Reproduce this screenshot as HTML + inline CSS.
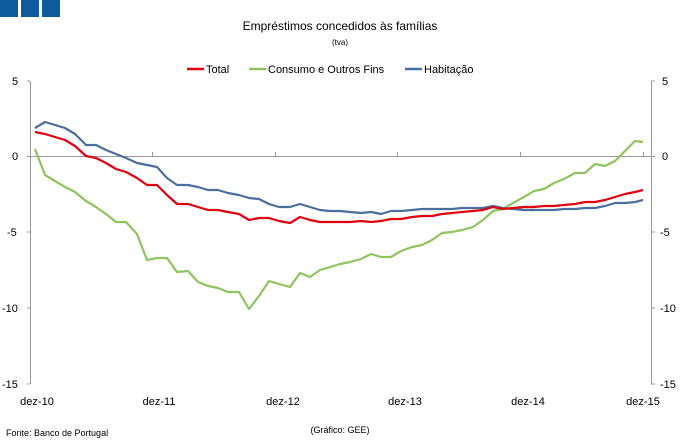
<!DOCTYPE html><html><head><meta charset="utf-8"><style>body{margin:0;background:#fff}svg{display:block;font-family:"Liberation Sans",sans-serif}</style></head><body>
<svg width="681" height="445" viewBox="0 0 681 445">
<rect x="0" y="0" width="18" height="17" fill="#0f5a9c"/><rect x="21" y="0" width="18" height="17" fill="#0f5a9c"/><rect x="42" y="0" width="18" height="17" fill="#0f5a9c"/>
<text x="340" y="30" font-size="12" text-anchor="middle" fill="#000">Empréstimos concedidos às famílias</text>
<text x="340" y="45" font-size="8" text-anchor="middle" fill="#000">(tva)</text>
<g font-size="11" fill="#000">
<line x1="187" y1="69" x2="204" y2="69" stroke="#e00010" stroke-width="2.5"/><text x="206" y="73">Total</text>
<line x1="249" y1="69" x2="266" y2="69" stroke="#8fc45f" stroke-width="2.5"/><text x="268" y="73">Consumo e Outros Fins</text>
<line x1="405" y1="69" x2="422" y2="69" stroke="#4a6f9c" stroke-width="2.5"/><text x="424" y="73">Habitação</text>
</g>
<g stroke="#999" stroke-width="1" fill="none">
<line x1="30.5" y1="81" x2="30.5" y2="384"/><line x1="651.5" y1="81" x2="651.5" y2="384"/>
<line x1="30" y1="156.5" x2="651" y2="156.5"/>
<path d="M27 81H30M27 156.5H30M27 232H30M27 308H30M27 384H30M651 81H655M651 156.5H655M651 232H655M651 308H655M651 384H655"/>
<path d="M152.5 152V156M275.5 152V156M397.5 152V156M520.5 152V156M643.5 152V156"/>
</g>
<g font-size="11" fill="#000">
<text x="12" y="85">5</text><text x="12" y="160">0</text><text x="7" y="236">-5</text><text x="2" y="312">-10</text><text x="2" y="388">-15</text>
<text x="662" y="85">5</text><text x="662" y="160">0</text><text x="660" y="236">-5</text><text x="660" y="312">-10</text><text x="660" y="388">-15</text>
<g text-anchor="middle"><text x="37" y="405">dez-10</text><text x="159" y="405">dez-11</text><text x="283" y="405">dez-12</text><text x="405" y="405">dez-13</text><text x="528" y="405">dez-14</text><text x="643" y="405">dez-15</text></g>
</g>
<text x="6" y="436" font-size="9">Fonte: Banco de Portugal</text>
<text x="340" y="433" font-size="9" text-anchor="middle">(Gráfico: GEE)</text>
<g fill="none" stroke-width="2.2" stroke-linejoin="round">
<polyline stroke="#8fc45f" points="35,149 45,175 55,181 65,187 75,192 86,201 96,207 106,214 116,222 126,222 137,234 147,260 157,258 167,258 177,272 188,271 198,282 208,286 218,288 228,292 239,292 249,309 259,296 269,281 279,284 290,287 300,273 310,277 320,270 330,267 340,264 350,262 361,259 371,254 381,257 391,257 401,251 412,247 422,245 432,240 442,233 452,232 462,230 473,227 483,220 493,211 503,209 513,203 524,197 534,191 544,189 554,183 564,179 575,173 585,173 595,164 605,166 615,161 625,151 635,141 643,142"/>
<polyline stroke="#4a6f9c" points="35,128 45,122 55,125 65,128 75,134 86,145 96,145 106,150 116,154 126,158 137,163 147,165 157,167 167,178 177,185 188,185 198,187 208,190 218,190 228,193 239,195 249,198 259,199 269,204 279,207 290,207 300,204 310,207 320,210 330,211 340,211 350,212 361,213 371,212 381,214 391,211 401,211 412,210 422,209 432,209 442,209 452,209 462,208 473,208 483,208 493,206 503,208 513,209 524,210 534,210 544,210 554,210 564,209 575,209 585,208 595,208 605,206 615,203 625,203 635,202 643,200"/>
<polyline stroke="#e00010" points="35,132 45,134 55,137 65,140 75,146 86,156 96,158 106,163 116,169 126,172 137,178 147,185 157,185 167,195 177,204 188,204 198,207 208,210 218,210 228,212 239,214 249,220 259,218 269,218 279,221 290,223 300,217 310,220 320,222 330,222 340,222 350,222 361,221 371,222 381,221 391,219 401,219 412,217 422,216 432,216 442,214 452,213 462,212 473,211 483,210 493,207 503,209 513,208 524,207 534,207 544,206 554,206 564,205 575,204 585,202 595,202 605,200 615,197 625,194 635,192 643,190"/>
</g>
</svg></body></html>
